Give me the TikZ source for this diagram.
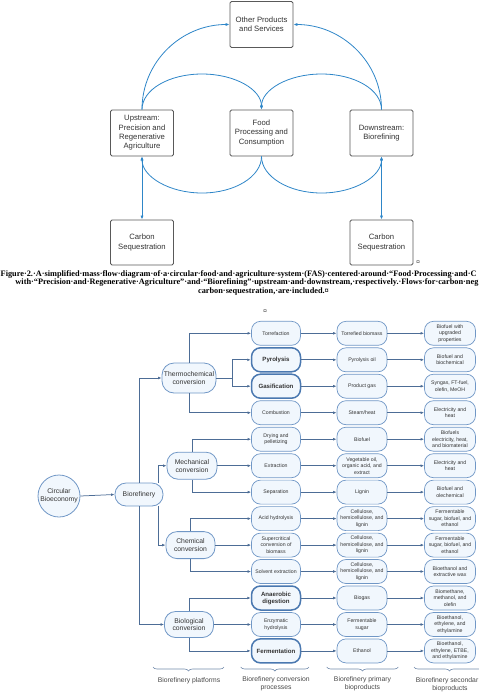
\documentclass[tikz,border=0pt]{standalone}
\usepackage{fontspec}
\setmainfont{Liberation Sans}
\newfontfamily\capfont{Liberation Serif}
\usetikzlibrary{arrows.meta,decorations.pathreplacing,calc}
\definecolor{topblue}{HTML}{2E86C8}
\definecolor{boxgray}{HTML}{595959}
\definecolor{txtgray}{HTML}{333333}
\definecolor{lineblue}{HTML}{4D6D96}
\definecolor{nodeborder}{HTML}{7097C6}
\definecolor{nodefill}{HTML}{F1F7FD}
\definecolor{boldborder}{HTML}{4A78B0}
\begin{document}
\begin{tikzpicture}[x=1pt,y=-1pt,
 topbox/.style={draw=boxgray, line width=0.9pt, rounded corners=1.5pt, minimum width=63pt, minimum height=46pt, align=center, text=txtgray, font=\fontsize{7.7}{9.3}\selectfont, inner sep=0pt, fill=white},
 toparrow/.style={draw=topblue, line width=0.8pt, -{Latex[length=4pt,width=3.2pt]}},
 topdouble/.style={draw=topblue, line width=0.8pt, {Latex[length=4pt,width=3.2pt]}-{Latex[length=4pt,width=3.2pt]}},
 plat/.style={draw=nodeborder, fill=nodefill, line width=0.8pt, rounded corners=11pt, align=center, text=txtgray, font=\fontsize{6.8}{7.8}\selectfont, inner sep=0pt},
 proc/.style={draw=nodeborder, fill=nodefill, line width=0.7pt, rounded corners=9pt, minimum width=49pt, minimum height=24pt, align=center, text=txtgray, font=\fontsize{5.2}{6.5}\selectfont, inner sep=0pt},
 prim/.style={proc, minimum width=50pt},
 seco/.style={proc, minimum width=51pt},
 boldproc/.style={proc, draw=boldborder, line width=1.5pt, font=\fontsize{6.1}{7}\selectfont\bfseries},
 conn/.style={draw=lineblue, line width=0.75pt, -{Latex[length=3.5pt,width=2.8pt]}},
 plainconn/.style={draw=lineblue, line width=0.75pt},
 bracestyle/.style={draw=lineblue!80, line width=0.6pt, decorate, decoration={brace, amplitude=4pt, mirror}},
 lab/.style={align=center, text=txtgray!90, font=\fontsize{6.8}{7.8}\selectfont, inner sep=0pt},
 capline/.style={font=\capfont\bfseries\fontsize{8.3}{8.4}\selectfont, inner sep=0pt, text=black},
 markst/.style={font=\capfont\fontsize{7}{7}\selectfont, inner sep=0pt, text=black}
]
\useasboundingbox (0,0) rectangle (479,697);

% ---------- top diagram ----------
\node[topbox] (other) at (261.5,24.5) {Other Products\\and Services};
\node[topbox] (up) at (142,133) {Upstream:\\Precision and\\Regenerative\\Agriculture};
\node[topbox] (food) at (261.5,133) {Food\\Processing and\\Consumption};
\node[topbox] (down) at (381.5,133) {Downstream:\\Biorefining};
\node[topbox, minimum height=45pt] (carbL) at (142,242.5) {Carbon\\Sequestration};
\node[topbox, minimum height=45pt] (carbR) at (381.5,242.5) {Carbon\\Sequestration};

\draw[toparrow] (up.north) .. controls +(0,-48) and +(-48,0) .. (other.west);
\draw[toparrow] (down.north) .. controls +(0,-48) and +(48,0) .. (other.east);
\draw[toparrow] (up.north) .. controls +(0,-20) and +(-33,0) .. (202,74) .. controls +(33,0) and +(0,-20) .. (food.north);
\draw[toparrow] (down.north) .. controls +(0,-20) and +(33,0) .. (321.5,74) .. controls +(-33,0) and +(0,-20) .. (food.north);
\draw[toparrow] (food.south) .. controls +(0,20) and +(33,0) .. (202,193) .. controls +(-33,0) and +(0,20) .. (up.south);
\draw[toparrow] (food.south) .. controls +(0,20) and +(-33,0) .. (321.5,193) .. controls +(33,0) and +(0,20) .. (down.south);
\draw[topdouble] (up.south) -- (carbL.north);
\draw[topdouble] (down.south) -- (carbR.north);

\node[markst] (m1) at (418,263) {¤};

% ---------- caption ----------
\node[capline, anchor=base west] (cap1) at (0.5,276) {Figure·2.·A·simplified·mass·flow·diagram·of·a·circular·food·and·agriculture·system·(FAS)·centered·around·“Food·Processing·and·C};
\node[capline, anchor=base west] (cap2) at (15.3,284.5) {with·“Precision·and·Regenerative·Agriculture”·and·“Biorefining”·upstream·and·downstream,·respectively.·Flows·for·carbon·neg};
\node[capline, anchor=base] (cap3) at (263.5,293) {carbon·sequestration,·are·included.¤};
\node[markst] (m2) at (265,312) {¤};

% ---------- bottom diagram ----------
\node[plat, circle, minimum size=42pt, rounded corners=0pt] (circ) at (59,496) {Circular\\Bioeconomy};
\node[plat, minimum width=48pt, minimum height=23pt] (bioref) at (139,494.5) {Biorefinery};
\node[plat, minimum width=54pt, minimum height=30pt, rounded corners=12pt] (thermo) at (189,378) {Thermochemical\\conversion};
\node[plat, minimum width=50pt, minimum height=27pt] (mech) at (192,465.7) {Mechanical\\conversion};
\node[plat, minimum width=49pt, minimum height=27pt] (chem) at (190.5,545.1) {Chemical\\conversion};
\node[plat, minimum width=49pt, minimum height=26pt] (biol) at (189,624.5) {Biological\\conversion};

% processes
\node[proc] (p1) at (276,333.3) {Torrefaction};
\node[boldproc] (p2) at (276,359.8) {Pyrolysis};
\node[boldproc] (p3) at (276,386.2) {Gasification};
\node[proc] (p4) at (276,412.7) {Combustion};
\node[proc] (p5) at (276,439.2) {Drying and\\pelletizing};
\node[proc] (p6) at (276,465.7) {Extraction};
\node[proc] (p7) at (276,492.1) {Separation};
\node[proc] (p8) at (276,518.6) {Acid hydrolysis};
\node[proc] (p9) at (276,545.1) {Supercritical\\conversion of\\biomass};
\node[proc] (p10) at (276,571.5) {Solvent extraction};
\node[boldproc] (p11) at (276,598.0) {Anaerobic\\digestion};
\node[proc] (p12) at (276,624.5) {Enzymatic\\hydrolysis};
\node[boldproc] (p13) at (276,650.9) {Fermentation};

% primary
\node[prim] (q1) at (362,333.3) {Torrefied biomass};
\node[prim] (q2) at (362,359.8) {Pyrolysis oil};
\node[prim] (q3) at (362,386.2) {Product gas};
\node[prim] (q4) at (362,412.7) {Steam/heat};
\node[prim] (q5) at (362,439.2) {Biofuel};
\node[prim] (q6) at (362,465.7) {Vegetable oil,\\organic acid, and\\extract};
\node[prim] (q7) at (362,492.1) {Lignin};
\node[prim] (q8) at (362,518.6) {Cellulose,\\hemicellulose, and\\lignin};
\node[prim] (q9) at (362,545.1) {Cellulose,\\hemicellulose, and\\lignin};
\node[prim] (q10) at (362,571.5) {Cellulose,\\hemicellulose, and\\lignin};
\node[prim] (q11) at (362,598.0) {Biogas};
\node[prim] (q12) at (362,624.5) {Fermentable\\sugar};
\node[prim] (q13) at (362,650.9) {Ethanol};

% secondary
\node[seco] (s1) at (450,333.3) {Biofuel with\\upgraded\\properties};
\node[seco] (s2) at (450,359.8) {Biofuel and\\biochemical};
\node[seco] (s3) at (450,386.2) {Syngas, FT-fuel,\\olefin, MeOH};
\node[seco] (s4) at (450,412.7) {Electricity and\\heat};
\node[seco] (s5) at (450,439.2) {Biofuels\\electricity, heat,\\and biomaterial};
\node[seco] (s6) at (450,465.7) {Electricity and\\heat};
\node[seco] (s7) at (450,492.1) {Biofuel and\\olechemical};
\node[seco] (s8) at (450,518.6) {Fermentable\\sugar, biofuel, and\\ethanol};
\node[seco] (s9) at (450,545.1) {Fermentable\\sugar, biofuel, and\\ethanol};
\node[seco] (s10) at (450,571.5) {Bioethanol and\\extractive wax};
\node[seco] (s11) at (450,598.0) {Biomethane,\\methanol, and\\olefin};
\node[seco] (s12) at (450,624.5) {Bioethanol,\\ethylene, and\\ethylamine};
\node[seco] (s13) at (450,650.9) {Bioethanol,\\ethylene, ETBE,\\and ethylamine};

% connectors
\draw[conn] (circ.east) -- (bioref.west);
\draw[conn] (bioref.north) |- (thermo.west);
\draw[conn] ([xshift=19pt]bioref.north) |- (mech.west);
\draw[conn] ([xshift=19pt]bioref.south) |- (chem.west);
\draw[conn] (bioref.south) |- (biol.west);

\coordinate (tj) at (232,378);
\draw[conn] (thermo.north) |- (p1.west);
\draw[plainconn] (thermo.east) -- (tj);
\draw[conn] (tj) |- (p2.west);
\draw[conn] (tj) |- (p3.west);
\draw[conn] (thermo.south) |- (p4.west);

\draw[conn] (mech.north) |- (p5.west);
\draw[conn] (mech.east) -- (p6.west);
\draw[conn] (mech.south) |- (p7.west);

\draw[conn] (chem.north) |- (p8.west);
\draw[conn] (chem.east) -- (p9.west);
\draw[conn] (chem.south) |- (p10.west);

\draw[conn] (biol.north) |- (p11.west);
\draw[conn] (biol.east) -- (p12.west);
\draw[conn] (biol.south) |- (p13.west);

\foreach \i in {1,...,13} {
  \draw[conn] (p\i.east) -- (q\i.west);
  \draw[conn] (q\i.east) -- (s\i.west);
}

% braces and labels
\begin{scope}
\clip (0,0) rectangle (479,697);
\draw[bracestyle] (153,667) -- (224,667);
\draw[bracestyle] (240.7,667) -- (309,667);
\draw[bracestyle] (326.7,667) -- (398.3,667);
\draw[bracestyle] (414,667) -- (485,667);
\end{scope}
\node[lab] (l1) at (189,680.5) {Biorefinery platforms};
\node[lab] (l2) at (276,684) {Biorefinery conversion\\processes};
\node[lab] (l3) at (362.5,684) {Biorefinery primary\\bioproducts};
\node[lab, anchor=east] (l4a) at (478.5,680.5) {Biorefinery secondar};
\node[lab] (l4b) at (450,688.3) {bioproducts};
\end{tikzpicture}
\end{document}
